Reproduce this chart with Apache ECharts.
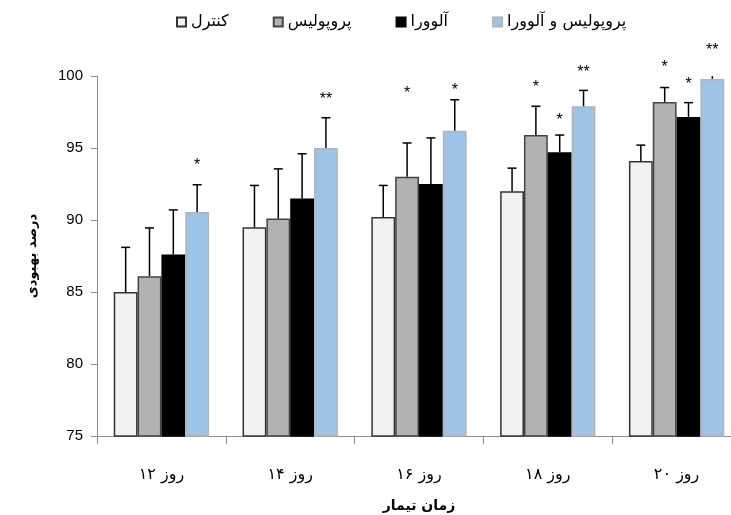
<!DOCTYPE html>
<html>
<head>
<meta charset="utf-8">
<script src="https://cdn.jsdelivr.net/npm/echarts@6/dist/echarts.min.js"></script>
<style>html,body{margin:0;padding:0;background:#fff}#c{width:731px;height:515px}</style>
</head>
<body>
<div id="c"></div>
<script>
const categories = ['روز ۱۲', 'روز ۱۴', 'روز ۱۶', 'روز ۱۸', 'روز ۲۰'];
const seriesNames = ['کنترل', 'پروپولیس', 'آلوورا', 'پروپولیس و آلوورا'];
const yTicks = [75, 80, 85, 90, 95, 100];

const control = [85.0, 89.5, 90.2, 92.0, 94.1];
const controlErr = [3.1, 2.9, 2.2, 1.6, 1.1];
const propolis = [86.1, 90.1, 93.0, 95.9, 98.2];
const propolisErr = [3.35, 3.45, 2.35, 2.0, 1.0];
const aloe = [87.6, 91.5, 92.5, 94.7, 97.15];
const aloeErr = [3.1, 3.1, 3.2, 1.2, 1.0];
const combo = [90.55, 95.0, 96.2, 97.9, 99.8];
const comboErr = [1.9, 2.1, 2.15, 1.1, 1.0];

const controlStars = ['', '', '', '', ''];
const propolisStars = ['', '', '*', '*', '*'];
const aloeStars = ['', '', '', '*', '*'];
const comboStars = ['*', '**', '*', '**', '**'];
const controlStarY = [null, null, null, null, null];
const propolisStarY = [null, null, 99.03, 99.44, 100.83];
const aloeStarY = [null, null, null, 97.17, 99.67];
const comboStarY = [94.03, 98.61, 99.26, 100.49, 102.01];

const values = [control, propolis, aloe, combo];
const errs = [controlErr, propolisErr, aloeErr, comboErr];
const stars = [controlStars, propolisStars, aloeStars, comboStars];
const starYs = [controlStarY, propolisStarY, aloeStarY, comboStarY];

const fills = ['#f2f2f2', '#b2b2b2', '#000000', '#9dc3e6'];
const borders = ['#333333', '#444444', '#000000', '#b4b4b4'];
const CAT_GAP = 0.26;
const persianFont = 'DejaVu Sans';

const chart = echarts.init(document.getElementById('c'));

function barOffset(api, k) {
  const band = api.size([1, 0])[0];
  const w = band * (1 - CAT_GAP) / 4;
  return (k - 1.5) * w;
}

const series = [];
values.forEach((vals, k) => {
  series.push({
    name: seriesNames[k],
    type: 'bar',
    data: vals,
    barGap: '0%',
    barCategoryGap: (CAT_GAP * 100) + '%',
    itemStyle: { color: fills[k], borderColor: borders[k], borderWidth: 1.5 },
    emphasis: { disabled: true },
    z: 2
  });
});
values.forEach((vals, k) => {
  series.push({
    type: 'custom',
    clip: true,
    silent: true,
    z: 3,
    data: vals.map((v, i) => [i, v, errs[k][i]]),
    renderItem: function (params, api) {
      const i = api.value(0), v = api.value(1), e = api.value(2);
      const base = api.coord([i, v]);
      const top = api.coord([i, v + e]);
      const x = base[0] + barOffset(api, k);
      const cap = 4.5;
      const st = { stroke: '#000', lineWidth: 1.5 };
      return {
        type: 'group',
        children: [
          { type: 'line', shape: { x1: x, y1: base[1], x2: x, y2: top[1] }, style: st },
          { type: 'line', shape: { x1: x - cap, y1: top[1], x2: x + cap, y2: top[1] }, style: st }
        ]
      };
    }
  });
});
values.forEach((vals, k) => {
  series.push({
    type: 'custom',
    clip: false,
    silent: true,
    z: 4,
    data: vals.map((v, i) => [i, starYs[k][i] == null ? 0 : starYs[k][i], stars[k][i]]),
    renderItem: function (params, api) {
      const i = params.dataIndex;
      const s = stars[k][i];
      if (!s) return null;
      const p = api.coord([api.value(0), starYs[k][i]]);
      const x = p[0] + barOffset(api, k);
      return {
        type: 'text',
        style: {
          text: s, x: x, y: p[1] + 4,
          fill: '#000', font: '16px "Liberation Sans", Arial',
          align: 'center', verticalAlign: 'middle'
        }
      };
    }
  });
});

chart.setOption({
  animation: false,
  backgroundColor: '#fff',
  legend: {
    data: seriesNames,
    left: 171,
    top: 9,
    itemWidth: 9,
    itemHeight: 9,
    itemGap: 44,
    icon: 'rect',
    textStyle: { fontFamily: persianFont, fontSize: 16, color: '#000' }
  },
  grid: { left: 97, right: -10, top: 76, bottom: 79, containLabel: false, outerBoundsMode: 'none' },
  xAxis: {
    type: 'category',
    data: categories,
    name: 'زمان تیمار',
    nameLocation: 'middle',
    nameGap: 63,
    nameTextStyle: { fontFamily: persianFont, fontSize: 14, fontWeight: 'bold', color: '#000' },
    axisLine: { lineStyle: { color: '#8c8c8c', width: 1 } },
    axisTick: { show: true, interval: 0, alignWithLabel: false, length: 8, lineStyle: { color: '#8c8c8c' } },
    axisLabel: { margin: 31, fontFamily: persianFont, fontSize: 16, color: '#000' },
    splitLine: { show: false }
  },
  yAxis: {
    type: 'value',
    min: yTicks[0],
    max: yTicks[yTicks.length - 1],
    interval: 5,
    name: 'درصد بهبودی',
    nameLocation: 'middle',
    nameGap: 58,
    nameTextStyle: { fontFamily: persianFont, fontSize: 13, fontWeight: 'bold', color: '#000' },
    axisLine: { show: true, lineStyle: { color: '#8c8c8c', width: 1 } },
    axisTick: { show: true, length: 6, lineStyle: { color: '#8c8c8c' } },
    axisLabel: { margin: 14, fontFamily: '"Liberation Sans", Arial', fontSize: 15, color: '#000' },
    splitLine: { show: false }
  },
  series: series
});
</script>
</body>
</html>
